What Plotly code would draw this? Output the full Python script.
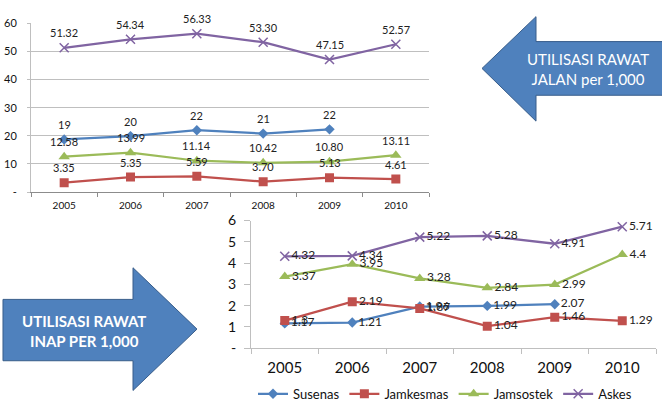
import plotly.graph_objects as go

W, H = 662, 409

years = ["2005", "2006", "2007", "2008", "2009", "2010"]

# Rawat jalan (outpatient) per 1,000
rj_susenas = [18.7, 19.9, 22.0, 20.8, 22.3, None]
rj_jamkesmas = [3.35, 5.35, 5.59, 3.70, 5.13, 4.61]
rj_jamsostek = [12.58, 13.99, 11.14, 10.42, 10.80, 13.11]
rj_askes = [51.32, 54.34, 56.33, 53.30, 47.15, 52.57]

# Rawat inap (inpatient) per 1,000
ri_susenas = [1.17, 1.21, 1.96, 1.99, 2.07, None]
ri_jamkesmas = [1.30, 2.19, 1.87, 1.04, 1.46, 1.29]
ri_jamsostek = [3.37, 3.95, 3.28, 2.84, 2.99, 4.4]
ri_askes = [4.32, 4.34, 5.22, 5.28, 4.91, 5.71]

series_names = ["Susenas", "Jamkesmas", "Jamsostek", "Askes"]
colors = ["#4F81BD", "#C0504D", "#9BBB59", "#8064A2"]
symbols = ["diamond", "square", "triangle-up", "x-thin"]
sizes = [8, 9, 10, 9]
top_fmt = ["{:.0f}", "{:.2f}", "{:.2f}", "{:.2f}"]

top_ticks = [0, 10, 20, 30, 40, 50, 60]
top_ticktext = ["-", "10", "20", "30", "40", "50", "60"]
bot_ticks = [0, 1, 2, 3, 4, 5, 6]
bot_ticktext = ["-", "1", "2", "3", "4", "5", "6"]

FONT = "Lato, 'Open Sans', sans-serif"

def px_x(x):
    return x / W

def px_y(y):
    return 1 - y / H

fig = go.Figure()

top_data = [rj_susenas, rj_jamkesmas, rj_jamsostek, rj_askes]
bot_data = [ri_susenas, ri_jamkesmas, ri_jamsostek, ri_askes]

annotations = []

for i, name in enumerate(series_names):
    mk = dict(symbol=symbols[i], size=sizes[i], color=colors[i])
    if symbols[i] == "x-thin":
        mk["line"] = dict(color=colors[i], width=1.5)
    fig.add_trace(go.Scatter(
        x=years, y=top_data[i], mode="lines+markers", name=name,
        line=dict(color=colors[i], width=2.25), marker=mk,
        showlegend=False, xaxis="x", yaxis="y", connectgaps=False,
    ))
    for k, v in enumerate(top_data[i]):
        if v is None:
            continue
        annotations.append(dict(
            x=k, y=v, xref="x", yref="y", text=top_fmt[i].format(v),
            xanchor="center", yanchor="middle",
            showarrow=False, yshift=15, font=dict(size=11, color="#222", family=FONT),
        ))

def bot_label(v):
    if v is None:
        return ""
    s = "{:g}".format(v)
    return s if len(s) < 4 else "{:.2f}".format(v)

for i, name in enumerate(series_names):
    mk = dict(symbol=symbols[i], size=sizes[i], color=colors[i])
    if symbols[i] == "x-thin":
        mk["line"] = dict(color=colors[i], width=1.5)
    fig.add_trace(go.Scatter(
        x=years, y=bot_data[i], mode="lines+markers+text", name=name,
        text=[bot_label(v) for v in bot_data[i]],
        textposition="middle right",
        textfont=dict(size=12, color="#222", family=FONT),
        line=dict(color=colors[i], width=2.25), marker=mk,
        showlegend=True, xaxis="x2", yaxis="y2",
    ))

axis_line = "#8c8c8c"

fig.update_layout(
    width=W, height=H, autosize=False,
    margin=dict(l=0, r=0, t=0, b=0),
    paper_bgcolor="white", plot_bgcolor="rgba(0,0,0,0)",
    font=dict(family=FONT, color="#111"),
    xaxis=dict(
        domain=[px_x(31), px_x(429)], anchor="y", type="category",
        tickson="boundaries", ticks="outside", ticklen=4, tickcolor=axis_line,
        showline=True, linecolor=axis_line, linewidth=1, showgrid=False,
        tickfont=dict(size=10), ticklabelstandoff=4, range=[-0.5, 5.5],
    ),
    yaxis=dict(
        domain=[px_y(191), px_y(15)], anchor="x", range=[0, 60],
        tickvals=top_ticks, ticktext=top_ticktext,
        ticks="outside", ticklen=3, tickcolor="#bfbfbf",
        showline=True, linecolor="#bfbfbf", showgrid=True, gridcolor="#bfbfbf",
        zeroline=False, tickfont=dict(size=11), ticklabelstandoff=8,
    ),
    xaxis2=dict(
        domain=[px_x(251), px_x(656)], anchor="y2", type="category",
        tickson="boundaries", ticks="outside", ticklen=5, tickcolor="#bfbfbf",
        showline=True, linecolor="#bfbfbf", linewidth=1, showgrid=False,
        tickfont=dict(size=15), ticklabelstandoff=6, range=[-0.5, 5.5],
    ),
    yaxis2=dict(
        domain=[px_y(354), px_y(220.7)], anchor="x2", range=[0, 6],
        tickvals=bot_ticks, ticktext=bot_ticktext,
        ticks="outside", ticklen=6, tickcolor="#bfbfbf",
        showline=True, linecolor="#bfbfbf", showgrid=False,
        zeroline=False, tickfont=dict(size=14), ticklabelstandoff=5,
    ),
    legend=dict(
        orientation="h", x=px_x(445), xanchor="center", y=-0.02, yanchor="bottom",
        font=dict(size=13), itemwidth=30, bgcolor="rgba(0,0,0,0)",
        tracegroupgap=0,
    ),
)

# Arrow shapes (pixel geometry converted to paper coordinates)
def path(points):
    return "M " + " L ".join(f"{px_x(x):.5f},{px_y(y):.5f}" for x, y in points) + " Z"

top_arrow = [(482, 62), (536, 8), (536, 34), (664, 34), (664, 90), (536, 90), (536, 117)]
bot_arrow = [(3, 303), (133, 303), (133, 270), (197, 334), (133, 398), (133, 367), (3, 367)]

for pts in (top_arrow, bot_arrow):
    fig.add_shape(type="path", path=path(pts), xref="paper", yref="paper",
                  fillcolor="#4F81BD", line=dict(color="#385D8A", width=1), layer="below")

annotations.append(dict(
    x=px_x(588), y=px_y(63), xref="paper", yref="paper", showarrow=False,
    xanchor="center", yanchor="middle",
    text="UTILISASI RAWAT<br>JALAN per 1,000",
    font=dict(size=15, color="white", family=FONT), align="center",
))
annotations.append(dict(
    x=px_x(84), y=px_y(336), xref="paper", yref="paper", showarrow=False,
    xanchor="center", yanchor="middle",
    text="<b>UTILISASI RAWAT<br>INAP PER 1,000</b>",
    font=dict(size=15, color="white", family=FONT), align="center",
))

fig.update_layout(annotations=annotations)

fig.write_html("out.html")
